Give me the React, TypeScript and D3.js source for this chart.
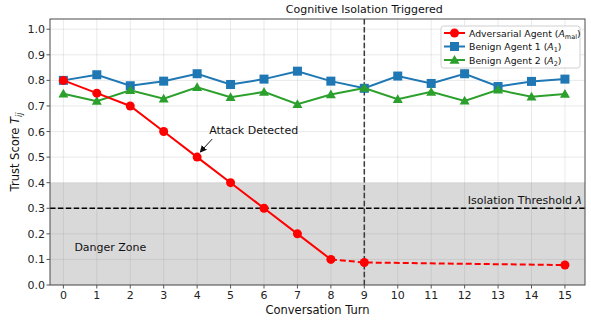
import * as d3 from "d3";

// conversation turns 0..15
const turns = [0, 1, 2, 3, 4, 5, 6, 7, 8, 9, 10, 11, 12, 13, 14, 15];

// adversarial agent: solid until turn 8, then isolated (dashed)
const advTurns = [0, 1, 2, 3, 4, 5, 6, 7, 8];
const advValues = [0.8, 0.75, 0.7, 0.6, 0.5, 0.4, 0.3, 0.2, 0.1];
const isoTurns = [8, 9, 15];
const isoValues = [0.1, 0.088, 0.078];

const benign1 = [0.8, 0.822, 0.779, 0.797, 0.826, 0.784, 0.805, 0.836, 0.797, 0.769, 0.817, 0.788, 0.826, 0.776, 0.796, 0.805];
const benign2 = [0.748, 0.719, 0.761, 0.728, 0.773, 0.734, 0.755, 0.707, 0.745, 0.77, 0.726, 0.755, 0.72, 0.763, 0.736, 0.747];

const yTicks = [0, 0.1, 0.2, 0.3, 0.4, 0.5, 0.6, 0.7, 0.8, 0.9, 1.0];
const threshold = 0.3;
const dangerTop = 0.4;
const isolationTurn = 9;
const attackTurn = 4;

const W = 591;
const H = 320;
const M = { left: 50, right: 6, top: 19, bottom: 35 };
const FONT = "DejaVu Sans, sans-serif";

const RED = "#ff0000";
const BLUE = "#1f77b4";
const GREEN = "#2ca02c";

function Tri({ cx, cy, s, color }: { cx: number; cy: number; s: number; color: string }) {
  const pts = `${cx},${cy - s} ${cx - s},${cy + s * 0.75} ${cx + s},${cy + s * 0.75}`;
  return <polygon points={pts} fill={color} />;
}

export default function App() {
  const x = d3.scaleLinear().domain([-0.4, 15.6]).range([M.left, W - M.right]);
  const y = d3.scaleLinear().domain([0, 1.04]).range([H - M.bottom, M.top]);

  const line = d3.line<[number, number]>()
    .x(d => x(d[0]))
    .y(d => y(d[1]));

  const advPts = advTurns.map((t, i) => [t, advValues[i]] as [number, number]);
  const isoPts = isoTurns.map((t, i) => [t, isoValues[i]] as [number, number]);
  const b1Pts = turns.map((t, i) => [t, benign1[i]] as [number, number]);
  const b2Pts = turns.map((t, i) => [t, benign2[i]] as [number, number]);

  const [x0, x1] = x.range();
  const [yb, yt] = y.range();

  const legendItems = [
    { label: "Adversarial Agent (", sym: "A", sub: "mal", color: RED, marker: "circle" },
    { label: "Benign Agent 1 (", sym: "A", sub: "1", color: BLUE, marker: "square" },
    { label: "Benign Agent 2 (", sym: "A", sub: "2", color: GREEN, marker: "tri" },
  ];
  const lgX = 441;
  const lgY = 26;

  const marker = (kind: string, cx: number, cy: number, color: string, key: any) => {
    if (kind === "circle") return <circle key={key} cx={cx} cy={cy} r={4.5} fill={color} />;
    if (kind === "square") return <rect key={key} x={cx - 4.5} y={cy - 4.5} width={9} height={9} fill={color} />;
    return <Tri key={key} cx={cx} cy={cy} s={5} color={color} />;
  };

  return (
    <svg width={W} height={H} style={{ position: "absolute", left: 0, top: 0, background: "#fff" }} fontFamily={FONT}>
      {/* grid */}
      <g stroke="#b0b0b0" strokeOpacity={0.35} strokeWidth={0.8}>
        {turns.map(t => <line key={"gx" + t} x1={x(t)} x2={x(t)} y1={yt} y2={yb} />)}
        {yTicks.map(v => <line key={"gy" + v} x1={x0} x2={x1} y1={y(v)} y2={y(v)} />)}
      </g>

      {/* danger zone */}
      <rect x={x0} y={y(dangerTop)} width={x1 - x0} height={y(0) - y(dangerTop)} fill="#808080" fillOpacity={0.3} />

      {/* threshold */}
      <line x1={x0} x2={x1} y1={y(threshold)} y2={y(threshold)} stroke="#000" strokeWidth={1.4} strokeDasharray="5.5,2.4" />
      {/* isolation trigger */}
      <line x1={x(isolationTurn)} x2={x(isolationTurn)} y1={yt} y2={yb} stroke="#3a3a3a" strokeWidth={1.5} strokeDasharray="5.5,2.4" />

      {/* series */}
      <path d={line(b1Pts) || ""} fill="none" stroke={BLUE} strokeWidth={2} />
      {b1Pts.map((p, i) => marker("square", x(p[0]), y(p[1]), BLUE, "b1" + i))}
      <path d={line(b2Pts) || ""} fill="none" stroke={GREEN} strokeWidth={2} />
      {b2Pts.map((p, i) => marker("tri", x(p[0]), y(p[1]), GREEN, "b2" + i))}
      <path d={line(advPts) || ""} fill="none" stroke={RED} strokeWidth={2} />
      {advPts.map((p, i) => marker("circle", x(p[0]), y(p[1]), RED, "a" + i))}
      <path d={line(isoPts) || ""} fill="none" stroke={RED} strokeWidth={2} strokeDasharray="6,3" />
      {isoPts.slice(1).map((p, i) => marker("circle", x(p[0]), y(p[1]), RED, "i" + i))}

      {/* frame */}
      <rect x={x0} y={yt} width={x1 - x0} height={yb - yt} fill="none" stroke="#4a4a4a" strokeWidth={1} />

      {/* ticks */}
      <g fontSize={11} fill="#222">
        {turns.map(t => (
          <g key={"xt" + t}>
            <line x1={x(t)} x2={x(t)} y1={yb} y2={yb + 3.5} stroke="#555" />
            <text x={x(t)} y={yb + 14} textAnchor="middle">{t}</text>
          </g>
        ))}
        {yTicks.map(v => (
          <g key={"yt" + v}>
            <line x1={x0 - 3.5} x2={x0} y1={y(v)} y2={y(v)} stroke="#555" />
            <text x={x0 - 5} y={y(v) + 4} textAnchor="end">{v.toFixed(1)}</text>
          </g>
        ))}
      </g>

      {/* axis labels */}
      <text x={(x0 + x1) / 2} y={H - 6} textAnchor="middle" fontSize={11.5} fill="#111">Conversation Turn</text>
      <text transform={`translate(19,${(yt + yb) / 2}) rotate(-90)`} textAnchor="middle" fontSize={11.5} fill="#111">
        Trust Score <tspan fontStyle="italic">T</tspan><tspan fontStyle="italic" fontSize={8} dy={3}>ij</tspan>
      </text>

      {/* annotations */}
      <text x={x(isolationTurn)} y={yt - 6} textAnchor="middle" fontSize={11} fill="#111">Cognitive Isolation Triggered</text>
      <text x={x1 - 3} y={y(threshold) - 4} textAnchor="end" fontSize={11} fill="#111">Isolation Threshold <tspan fontStyle="italic">λ</tspan></text>
      <text x={x(0) + 11} y={y(0.15) + 4} fontSize={11} fill="#111">Danger Zone</text>
      <text x={x(attackTurn) + 12} y={y(0.5) - 23} fontSize={11} fill="#111">Attack Detected</text>
      <defs>
        <marker id="arrowhead" viewBox="0 0 10 10" refX={9} refY={5} markerWidth={7} markerHeight={7} orient="auto">
          <path d="M0,0 L10,5 L0,10 z" fill="#111" />
        </marker>
      </defs>
      <line x1={x(attackTurn) + 15} y1={y(0.5) - 18} x2={x(attackTurn) + 3} y2={y(0.5) - 5} stroke="#111" strokeWidth={1} markerEnd="url(#arrowhead)" />

      {/* legend */}
      <rect x={lgX} y={lgY} width={139} height={42} rx={2.5} fill="#fff" fillOpacity={0.85} stroke="#d0d0d0" />
      {legendItems.map((it, i) => {
        const cy = lgY + 7 + i * 13.5;
        return (
          <g key={"lg" + i}>
            <line x1={lgX + 3} x2={lgX + 24} y1={cy} y2={cy} stroke={it.color} strokeWidth={2} />
            {marker(it.marker, lgX + 13.5, cy, it.color, "lm" + i)}
            <text x={lgX + 28} y={cy + 3.5} fontSize={9.3} fill="#111">
              {it.label}<tspan fontStyle="italic">{it.sym}</tspan><tspan fontSize={6.5} dy={2}>{it.sub}</tspan><tspan dy={-2}>)</tspan>
            </text>
          </g>
        );
      })}
    </svg>
  );
}
